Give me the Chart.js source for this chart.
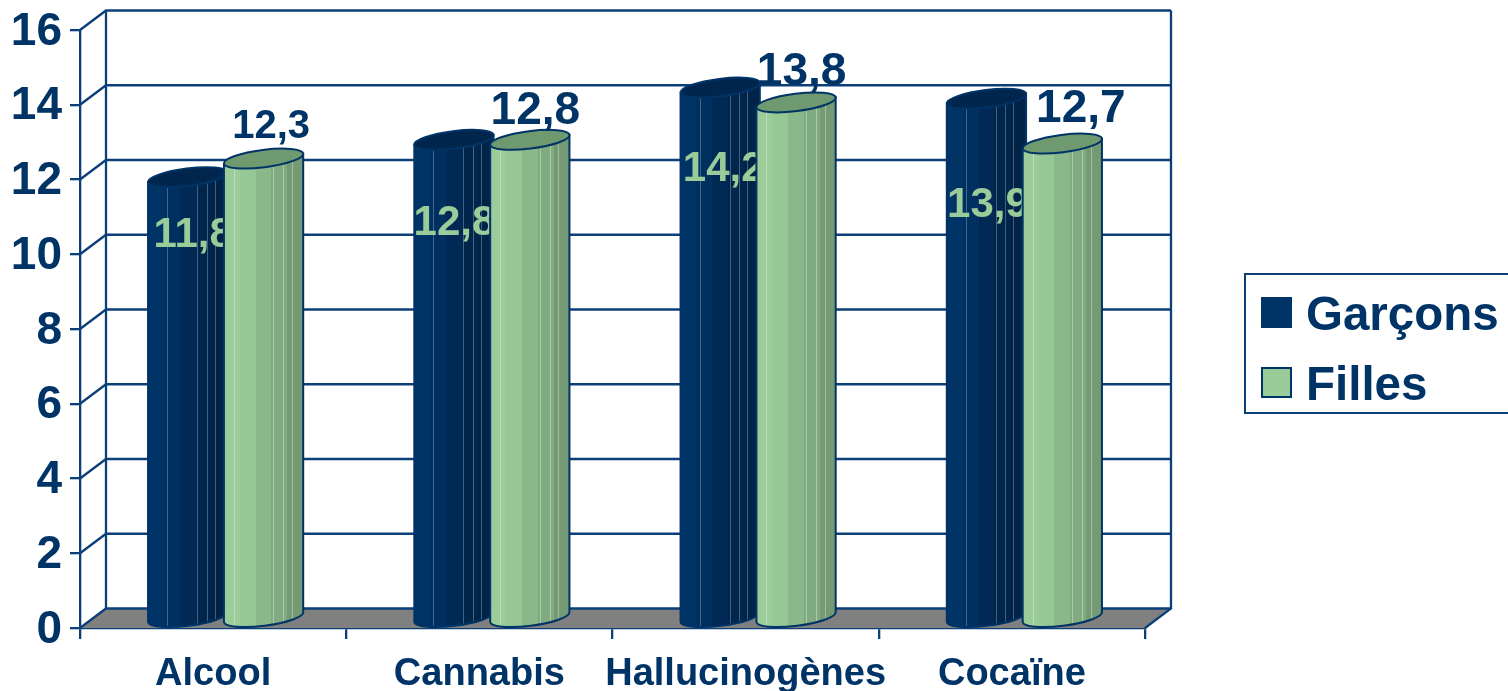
<!DOCTYPE html>
<html lang="fr">
<head>
<meta charset="utf-8">
<title>Âge moyen</title>
<script src="https://cdn.jsdelivr.net/npm/chart.js@4"></script>
<style>
  html, body { margin: 0; padding: 0; background: #fff; overflow: hidden; }
  canvas { display: block; }
</style>
</head>
<body>
<canvas id="chart" width="1508" height="691"></canvas>
<script>
const categories = ['Alcool', 'Cannabis', 'Hallucinogènes', 'Cocaïne'];
const garcons = [11.8, 12.8, 14.2, 13.9];
const filles = [12.3, 12.8, 13.8, 12.7];
const yTicks = [0, 2, 4, 6, 8, 10, 12, 14, 16];

const NAVY = '#003366';
const LINE = '#0b3f78';
const GREEN = '#99cc99';
const FONT = '"Liberation Sans", Arial, sans-serif';

// depth of the fake 3D box, in pixels
const DEPTH_X = 26;
const DEPTH_Y = -19.5;

// look of the two cylinders
const looks = [
  {
    stops: ['#003366', '#003060', '#002a55', '#00264c', '#002347'],
    facets: [0.24, 0.62, 0.74, 0.84],
    facetColor: 'rgba(190,210,235,0.35)',
    cap: '#00264d',
    outline: '#003366',
    labelColor: '#99cc99'
  },
  {
    stops: ['#9ccc99', '#97c795', '#8bb88a', '#80aa80', '#739a72'],
    facets: [0.125, 0.625, 0.75, 0.86],
    facetColor: 'rgba(235,245,235,0.4)',
    cap: '#6f9a6f',
    outline: '#003366',
    labelColor: '#003366'
  }
];

// data labels were moved and resized by hand on the original: dx, dy, font size
const labelShift = [
  [[5, 58, 42], [0, 84, 42], [3, 82, 42], [1, 107, 42]],
  [[7, -32, 40], [5, -29, 46], [5, -30, 46], [18, -34, 46]]
];

function drawCylinder(ctx, bar, look) {
  const cx = bar.x + DEPTH_X / 2 - 0.5;
  const top = bar.y + DEPTH_Y / 2;
  const bottom = bar.base + DEPTH_Y / 2;
  const rx = bar.width / 2 + 2;
  const ry = 8.7;
  const rot = -0.125;
  const dx = rx * Math.cos(rot);
  const dy = rx * Math.sin(rot);

  const body = new Path2D();
  body.moveTo(cx - dx, top - dy);
  body.lineTo(cx - dx, bottom - dy);
  body.ellipse(cx, bottom, rx, ry, rot, Math.PI, 0, true);
  body.lineTo(cx + dx, top + dy);
  body.closePath();

  // hard colour stops give the faceted look
  const grad = ctx.createLinearGradient(cx - dx, 0, cx + dx, 0);
  const n = look.stops.length;
  look.stops.forEach((c, i) => {
    grad.addColorStop(i / n, c);
    grad.addColorStop((i + 1) / n, c);
  });

  ctx.save();
  ctx.fillStyle = grad;
  ctx.fill(body);
  ctx.save();
  ctx.clip(body);
  ctx.strokeStyle = look.facetColor;
  ctx.lineWidth = 1;
  look.facets.forEach(f => {
    const x = Math.round(cx - dx + f * 2 * dx) + 0.5;
    ctx.beginPath();
    ctx.moveTo(x, top);
    ctx.lineTo(x, bottom + ry);
    ctx.stroke();
  });
  ctx.restore();
  ctx.strokeStyle = look.outline;
  ctx.lineWidth = 2;
  ctx.stroke(body);

  ctx.beginPath();
  ctx.ellipse(cx, top, rx, ry, rot, 0, Math.PI * 2);
  ctx.fillStyle = look.cap;
  ctx.fill();
  ctx.stroke();
  ctx.restore();
}

// back wall, side wall and floor behind the bars
const boxPlugin = {
  id: 'box',
  beforeDatasetsDraw(chart) {
    const { ctx, chartArea: a, scales: { y } } = chart;
    ctx.save();
    ctx.fillStyle = '#808080';
    ctx.beginPath();
    ctx.moveTo(a.left, a.bottom);
    ctx.lineTo(a.right, a.bottom);
    ctx.lineTo(a.right + DEPTH_X, a.bottom + DEPTH_Y);
    ctx.lineTo(a.left + DEPTH_X, a.bottom + DEPTH_Y);
    ctx.closePath();
    ctx.fill();

    ctx.strokeStyle = LINE;
    ctx.lineWidth = 2.3;
    yTicks.forEach(v => {
      const py = y.getPixelForValue(v);
      ctx.beginPath();
      ctx.moveTo(a.left, py);
      ctx.lineTo(a.left + DEPTH_X, py + DEPTH_Y);
      ctx.lineTo(a.right + DEPTH_X, py + DEPTH_Y);
      ctx.stroke();
    });
    ctx.beginPath();
    ctx.moveTo(a.left + DEPTH_X, a.top + DEPTH_Y);
    ctx.lineTo(a.left + DEPTH_X, a.bottom + DEPTH_Y);
    ctx.moveTo(a.right + DEPTH_X, a.top + DEPTH_Y);
    ctx.lineTo(a.right + DEPTH_X, a.bottom + DEPTH_Y);
    ctx.lineTo(a.right, a.bottom);
    ctx.stroke();
    ctx.restore();
  }
};

// cylinders and their labels, garçons first so filles cover them
const cylinderPlugin = {
  id: 'cylinders',
  afterDatasetsDraw(chart) {
    const { ctx } = chart;
    looks.forEach((look, d) => {
      const meta = chart.getDatasetMeta(d);
      const values = chart.data.datasets[d].data;
      meta.data.forEach(bar => {
        drawCylinder(ctx, bar, look);
      });
      meta.data.forEach((bar, i) => {
        const [sx, sy, size] = labelShift[d][i];
        ctx.save();
        ctx.font = 'bold ' + size + 'px ' + FONT;
        ctx.fillStyle = look.labelColor;
        ctx.textAlign = 'center';
        ctx.textBaseline = 'middle';
        ctx.fillText(
          values[i].toFixed(1).replace('.', ','),
          bar.x + DEPTH_X / 2 + sx,
          bar.y + DEPTH_Y / 2 + sy
        );
        ctx.restore();
      });
    });
  }
};

const legendPlugin = {
  id: 'boxLegend',
  afterDraw(chart) {
    const { ctx } = chart;
    ctx.save();
    ctx.strokeStyle = LINE;
    ctx.lineWidth = 2;
    ctx.strokeRect(1245, 274, 270, 139);
    chart.data.datasets.forEach((ds, i) => {
      const top = 297 + i * 70;
      ctx.fillStyle = i === 0 ? NAVY : GREEN;
      ctx.fillRect(1261, top, 31, 31);
      ctx.strokeStyle = NAVY;
      ctx.strokeRect(1262, top + 1, 29, 29);
      ctx.fillStyle = NAVY;
      ctx.font = 'bold 47.5px ' + FONT;
      ctx.textAlign = 'left';
      ctx.textBaseline = 'middle';
      ctx.fillText(ds.label, 1306, top + 20);
    });
    ctx.restore();
  }
};

new Chart(document.getElementById('chart'), {
  type: 'bar',
  data: {
    labels: categories,
    datasets: [
      { label: 'Garçons', data: garcons, backgroundColor: 'transparent' },
      { label: 'Filles', data: filles, backgroundColor: 'transparent' }
    ]
  },
  plugins: [boxPlugin, cylinderPlugin, legendPlugin],
  options: {
    responsive: false,
    animation: false,
    layout: { padding: { top: 30, right: 363, left: 0, bottom: 0 } },
    datasets: { bar: { categoryPercentage: 0.57, barPercentage: 1 } },
    plugins: { legend: { display: false }, tooltip: { enabled: false } },
    scales: {
      x: {
        afterFit: s => { s.height = 63; s.paddingLeft = 0; s.paddingRight = 0; },
        grid: { drawOnChartArea: false, color: LINE, lineWidth: 2.3, tickLength: 11, offset: true },
        border: { color: LINE, width: 2.3 },
        ticks: {
          color: NAVY,
          font: { family: FONT, size: 38, weight: 'bold' },
          padding: 13,
          maxRotation: 0,
          autoSkip: false
        }
      },
      y: {
        min: 0,
        max: 16,
        afterFit: s => { s.width = 80; s.paddingTop = 0; s.paddingBottom = 0; },
        grid: { drawOnChartArea: false, color: LINE, lineWidth: 2.3, tickLength: 10 },
        border: { color: LINE, width: 2.3 },
        afterBuildTicks: s => { s.ticks = yTicks.map(v => ({ value: v })); },
        ticks: {
          color: NAVY,
          font: { family: FONT, size: 46, weight: 'bold' },
          padding: 8,
          labelOffset: 2
        }
      }
    }
  }
});
</script>
</body>
</html>
